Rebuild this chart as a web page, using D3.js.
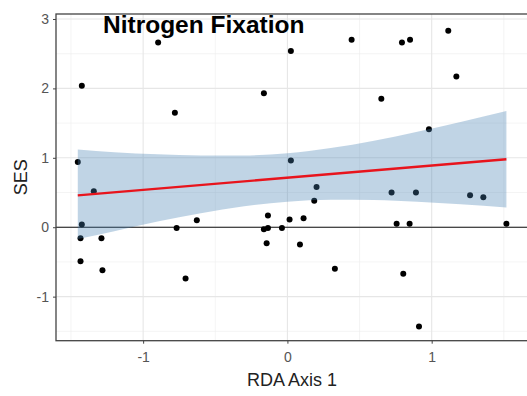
<!DOCTYPE html>
<html>
<head>
<meta charset="utf-8">
<script src="https://cdn.jsdelivr.net/npm/d3@7"></script>
<style>
  html, body { margin: 0; padding: 0; background: #fff; }
  svg { display: block; }
</style>
</head>
<body>
<svg id="chart" width="527" height="396"></svg>
<script>
// ---- data ----
const title = "Nitrogen Fixation";
const xLabel = "RDA Axis 1";
const yLabel = "SES";
const xTicks = [-1, 0, 1];
const yTicks = [-1, 0, 1, 2, 3];
const xMinor = [-1.5, -0.5, 0.5, 1.5];
const yMinor = [-1.5, -0.5, 0.5, 1.5, 2.5];

const rdaAxis1 = [-0.896, -1.425, -0.780, -0.163, -1.453, -1.342, 0.024, 0.445, 0.794, 0.850,
                  1.115, 1.171, 0.651, 0.981, 0.024, 0.202, 0.722, 0.891, 1.266, 1.358,
                  0.186, 0.757, 0.847, 1.518, -0.135, -0.163, -0.135, -0.038, 0.015, 0.112,
                  -0.144, 0.087, 0.329, 0.803, 0.912, -1.425, -1.434, -1.289, -1.434, -1.282,
                  -0.768, -0.628, -0.706];
const ses = [2.66, 2.04, 1.65, 1.93, 0.94, 0.52, 2.54, 2.70, 2.66, 2.70,
             2.83, 2.17, 1.85, 1.41, 0.96, 0.58, 0.50, 0.50, 0.46, 0.43,
             0.38, 0.05, 0.05, 0.05, 0.17, -0.03, -0.01, -0.01, 0.11, 0.13,
             -0.23, -0.25, -0.60, -0.67, -1.43, 0.04, -0.16, -0.16, -0.49, -0.62,
             -0.01, 0.10, -0.74];

const fitX = [-1.453, 1.518];
const fitY = [0.460, 0.979];
const bandX    = [-1.453, -1.2, -0.9, -0.6, -0.3, 0, 0.3, 0.6, 0.9, 1.2, 1.518];
const bandLow  = [-0.17, -0.058, 0.081, 0.203, 0.302, 0.367, 0.394, 0.392, 0.367, 0.331, 0.283];
const bandHigh = [1.12, 1.08, 1.05, 1.035, 1.035, 1.065, 1.14, 1.246, 1.375, 1.517, 1.675];

// ---- layout ----
const svg = d3.select("#chart");
const L = 56, R = 528.2, T = 14, B = 340.7;
const x = d3.scaleLinear().domain([-1.604, 1.669]).range([L, R]);
const y = d3.scaleLinear().domain([-1.635, 3.072]).range([B, T]);

svg.append("rect").attr("width", 527).attr("height", 396).attr("fill", "#fff");

const grid = svg.append("g");
grid.selectAll(".xm").data(xMinor).join("line")
  .attr("x1", d => x(d)).attr("x2", d => x(d)).attr("y1", T).attr("y2", B)
  .attr("stroke", "#ececec").attr("stroke-width", 0.6);
grid.selectAll(".ym").data(yMinor).join("line")
  .attr("y1", d => y(d)).attr("y2", d => y(d)).attr("x1", L).attr("x2", R)
  .attr("stroke", "#ececec").attr("stroke-width", 0.6);
grid.selectAll(".xM").data(xTicks).join("line")
  .attr("x1", d => x(d)).attr("x2", d => x(d)).attr("y1", T).attr("y2", B)
  .attr("stroke", "#e6e6e6").attr("stroke-width", 1.1);
grid.selectAll(".yM").data(yTicks).join("line")
  .attr("y1", d => y(d)).attr("y2", d => y(d)).attr("x1", L).attr("x2", R)
  .attr("stroke", "#e6e6e6").attr("stroke-width", 1.1);

// horizontal reference at 0
svg.append("line").attr("x1", L).attr("x2", R).attr("y1", y(0)).attr("y2", y(0))
  .attr("stroke", "#111").attr("stroke-width", 1.1);

// points
svg.append("g").selectAll("circle").data(rdaAxis1).join("circle")
  .attr("cx", d => x(d)).attr("cy", (d, i) => y(ses[i])).attr("r", 3)
  .attr("fill", "#000");

// confidence band
const band = bandX.map((d, i) => ({x: d, lo: bandLow[i], hi: bandHigh[i]}));
svg.append("path").datum(band)
  .attr("d", d3.area().x(d => x(d.x)).y0(d => y(d.lo)).y1(d => y(d.hi)).curve(d3.curveMonotoneX))
  .attr("fill", "steelblue").attr("fill-opacity", 0.34);

// fit line
svg.append("path").datum(fitX.map((d, i) => [d, fitY[i]]))
  .attr("d", d3.line().x(d => x(d[0])).y(d => y(d[1])))
  .attr("stroke", "#e8141c").attr("stroke-width", 2.3).attr("fill", "none");

// panel border
svg.append("rect").attr("x", L).attr("y", T).attr("width", R - L).attr("height", B - T)
  .attr("fill", "none").attr("stroke", "#444").attr("stroke-width", 1.3);

// axes
const font = "'Liberation Sans', Arial, sans-serif";
const ya = svg.append("g").attr("transform", `translate(${L},0)`)
  .call(d3.axisLeft(y).tickValues(yTicks).tickSize(3).tickPadding(4).tickFormat(d3.format("d")));
const xa = svg.append("g").attr("transform", `translate(0,${B})`)
  .call(d3.axisBottom(x).tickValues(xTicks).tickSize(3).tickPadding(8).tickFormat(d3.format("d")));
[ya, xa].forEach(a => {
  a.select(".domain").remove();
  a.selectAll(".tick line").attr("stroke", "#444");
  a.selectAll(".tick text").attr("fill", "#555").style("font-family", font).style("font-size", "14px");
});
ya.selectAll(".tick text").text(d => String(d));
xa.selectAll(".tick text").text(d => String(d));

// axis titles
svg.append("text").attr("x", (L + R) / 2).attr("y", 386).attr("text-anchor", "middle")
  .style("font-family", font).style("font-size", "18px").attr("fill", "#222").text(xLabel);
svg.append("text").attr("transform", `translate(26.5,${(T + B) / 2}) rotate(-90)`)
  .attr("text-anchor", "middle")
  .style("font-family", font).style("font-size", "18px").attr("fill", "#222").text(yLabel);

// title inside panel
svg.append("text").attr("x", 103).attr("y", 32.5)
  .style("font-family", font).style("font-size", "24.5px").style("font-weight", "bold")
  .attr("fill", "#000").text(title);
</script>
</body>
</html>
